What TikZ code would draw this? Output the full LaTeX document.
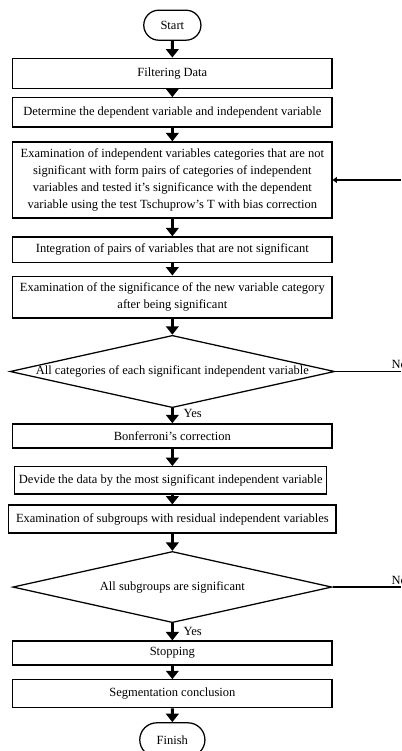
\documentclass[tikz,border=0pt]{standalone}
\usepackage{fontspec}
\setmainfont{Liberation Serif}
\usetikzlibrary{arrows.meta,shapes.geometric,shapes.misc}
\tikzset{
	stepbox/.style={draw=black, line width=0.9pt, rectangle, minimum width=7.98cm, align=center, inner sep=1pt, font=\fontsize{8.9}{12}\selectfont},
	endbox/.style={draw=black, line width=0.9pt, rounded rectangle, align=center, inner sep=1pt, font=\fontsize{8.9}{12}\selectfont},
	askbox/.style={draw=black, line width=0.9pt, diamond, aspect=4.49, minimum width=7.98cm, minimum height=1.78cm, inner sep=0pt, font=\fontsize{8.9}{12}\selectfont},
	flow/.style={draw=black, line width=2.2pt, -{Triangle[width=9pt,length=6pt]}},
	back/.style={draw=black, line width=1pt, -{Triangle[width=4pt,length=3pt]}},
	lbl/.style={black, inner sep=1pt, font=\fontsize{8.9}{12}\selectfont}
}
\begin{document}
\begin{tikzpicture}
	\useasboundingbox (0,0) rectangle (10.03,-18.78);
	\node[endbox, minimum width=1.50cm, minimum height=0.75cm] (start) at (4.31,-0.63) {Start};
	\node[stepbox, minimum height=0.75cm] (filter) at (4.31,-1.83) {Filtering Data};
	\node[stepbox, minimum height=0.73cm] (depvar) at (4.31,-2.81) {Determine the dependent variable and independent variable};
	\node[stepbox, minimum height=1.90cm] (pairs) at (4.31,-4.50) {Examination of independent variables categories that are not\\significant with form pairs of categories of independent\\variables and tested it’s significance with the dependent\\variable using the test Tschuprow’s T with bias correction};
	\node[stepbox, minimum height=0.63cm] (merge) at (4.31,-6.24) {Integration of pairs of variables that are not significant};
	\node[stepbox, minimum height=1.05cm] (newcat) at (4.31,-7.43) {Examination of the significance of the new variable category\\after being significant};
	\node[askbox] (allcat) at (4.31,-9.29) {All categories of each significant independent variable};
	\node[stepbox, minimum height=0.60cm] (bonf) at (4.31,-10.90) {Bonferroni’s correction};
	\node[stepbox, minimum width=7.80cm, minimum height=0.68cm] (split) at (4.27,-12.01) {Devide the data by the most significant independent variable};
	\node[stepbox, minimum width=8.18cm, minimum height=0.70cm] (subgr) at (4.31,-12.98) {Examination of subgroups with residual independent variables};
	\node[askbox] (allsub) at (4.31,-14.68) {All subgroups are significant};
	\node[stepbox, minimum height=0.60cm] (stop) at (4.31,-16.33) {Stopping};
	\node[stepbox, minimum height=0.70cm] (concl) at (4.31,-17.35) {Segmentation conclusion};
	\node[endbox, minimum width=1.70cm, minimum height=0.85cm] (finish) at (4.31,-18.50) {Finish};
	\coordinate (fb) at (10.03,-4.50);
	\coordinate (no1) at (10.03,-9.29);
	\coordinate (no2) at (10.03,-14.68);
	\draw[flow] (start) -- (filter);
	\draw[flow] (filter) -- (depvar);
	\draw[flow] (depvar) -- (pairs);
	\draw[flow] (pairs) -- (merge);
	\draw[flow] (merge) -- (newcat);
	\draw[flow] (newcat) -- (allcat);
	\draw[flow] (allcat) -- (bonf);
	\draw[flow] (bonf.south) -- (bonf.south |- split.north);
	\draw[flow] (split.south -| subgr.north) -- (subgr);
	\draw[flow] (subgr) -- (allsub);
	\draw[flow] (allsub) -- (stop);
	\draw[flow] (stop) -- (concl);
	\draw[flow] (concl) -- (finish);
	\draw[back] (fb) -- (pairs.east);
	\draw[draw=black, line width=0.9pt] (allcat.east) -- (no1);
	\draw[draw=black, line width=0.9pt] (allsub.east) -- (no2);
	\node[lbl, anchor=south west] (no1lbl) at (9.75,-9.27) {No};
	\node[lbl, anchor=south west] (no2lbl) at (9.75,-14.66) {No};
	\node[lbl, anchor=west] (yes1) at (4.55,-10.35) {Yes};
	\node[lbl, anchor=west] (yes2) at (4.55,-15.80) {Yes};
\end{tikzpicture}
\end{document}
